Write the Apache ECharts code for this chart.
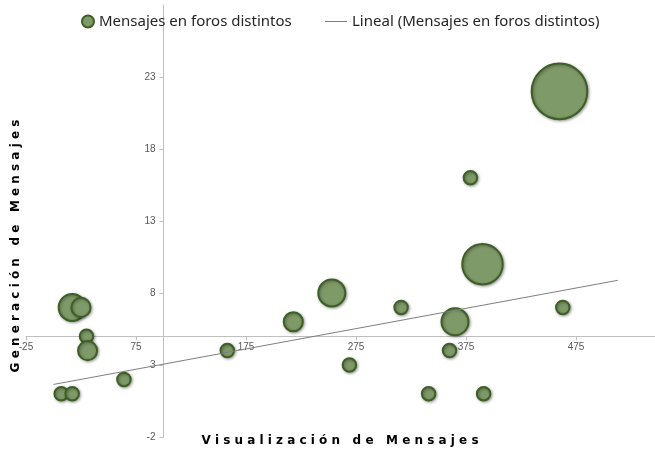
<!DOCTYPE html>
<html>
<head>
<meta charset="utf-8">
<script src="https://cdn.jsdelivr.net/npm/echarts@6/dist/echarts.min.js"></script>
<style>
  html, body { margin: 0; padding: 0; background: #fff; }
  #main { width: 655px; height: 453px; }
</style>
</head>
<body>
<div id="main"></div>
<script>
// valores
var xValues = [7, 17, 17, 25, 30, 31, 64, 158, 218, 253, 269, 316, 341, 360, 365, 379, 390, 391, 460, 463];
var yValues = [1, 1, 7, 7, 5, 4, 2, 4, 6, 8, 3, 7, 1, 4, 6, 16, 10, 1, 22, 7];
var bubbleSizes = [1, 1, 4, 2, 1, 2, 1, 1, 2, 4, 1, 1, 1, 1, 4, 1, 9, 1, 17, 1];

// linea de tendencia (extremos leidos)
var trendX = [0, 513];
var trendY = [1.65, 8.88];

var seriesName = 'Mensajes en foros distintos';
var trendName = 'Lineal (Mensajes en foros distintos)';
var xTitle = 'V i s u a l i z a c i ó n   d e   M e n s a j e s';
var yTitle = 'G e n e r a c i ó n   d e   M e n s a j e s';

var W = 655, H = 453;
var gridLeft = 26, gridTop = 5, gridBottom = 16, gridRight = -31;

var bubbleData = [];
for (var i = 0; i < xValues.length; i++) {
  bubbleData.push([xValues[i], yValues[i], bubbleSizes[i]]);
}
var trendData = [];
for (var j = 0; j < trendX.length; j++) {
  trendData.push([trendX[j], trendY[j]]);
}

var chart = echarts.init(document.getElementById('main'), null, { renderer: 'canvas' });

var axisColor = '#bfbfbf';
var labelStyle = { color: '#595959', fontSize: 10, fontFamily: 'Liberation Sans' };
var legendText = { color: '#262626', fontSize: 15, fontFamily: 'Noto Sans' };

var option = {
  animation: false,
  backgroundColor: '#ffffff',
  grid: {
    left: gridLeft, right: gridRight, top: gridTop, bottom: gridBottom,
    containLabel: false, outerBoundsMode: 'none'
  },
  legend: [{
    left: 76, top: 9,
    data: [{ name: seriesName, icon: 'circle' }],
    itemWidth: 12, itemHeight: 12,
    textStyle: legendText
  }, {
    left: 320, top: 9,
    data: [{ name: trendName, icon: 'rect' }],
    itemWidth: 22, itemHeight: 1,
    itemStyle: { color: '#7f7f7f', borderWidth: 0 },
    textStyle: legendText
  }],
  xAxis: {
    type: 'value',
    min: -25, max: 575, interval: 100,
    position: 'bottom',
    axisLine: { onZero: false, lineStyle: { color: axisColor, width: 1 } },
    axisTick: { show: true, length: 4, lineStyle: { color: axisColor } },
    axisLabel: Object.assign({ margin: 6, showMaxLabel: false }, labelStyle),
    splitLine: { show: false }
  },
  yAxis: {
    type: 'value',
    min: -2, max: 28, interval: 5,
    position: 'left',
    axisLine: { show: true, onZero: false, lineStyle: { color: axisColor, width: 1 } },
    axisTick: { show: true, length: 4, lineStyle: { color: axisColor } },
    axisLabel: Object.assign({ margin: 8, showMaxLabel: false }, labelStyle),
    splitLine: { show: false }
  },
  series: [{
    name: seriesName,
    type: 'scatter',
    data: bubbleData,
    symbolSize: function (d) { return 13.5 * Math.sqrt(d[2]); },
    itemStyle: {
      color: '#7f9a69',
      borderColor: '#3d5e25',
      borderWidth: 2,
      opacity: 1,
      shadowBlur: 3,
      shadowOffsetX: 1,
      shadowOffsetY: 1,
      shadowColor: 'rgba(0,0,0,0.35)'
    },
    z: 2
  }, {
    name: trendName,
    type: 'line',
    data: trendData,
    symbol: 'none',
    lineStyle: { color: '#7f7f7f', width: 1 },
    itemStyle: { color: '#7f7f7f' },
    z: 3
  }],
  graphic: [{
    type: 'text',
    x: 340, y: 441,
    style: {
      text: xTitle, align: 'center', verticalAlign: 'middle',
      fill: '#000', font: 'bold 12px "DejaVu Sans"'
    }
  }, {
    type: 'text',
    x: 16, y: 246, rotation: Math.PI / 2,
    style: {
      text: yTitle, align: 'center', verticalAlign: 'middle',
      fill: '#000', font: 'bold 12px "DejaVu Sans"'
    }
  }]
};

chart.setOption(option);

// los ejes se cruzan en x=100, y=5 como en Excel
var cross = chart.convertToPixel({ gridIndex: 0 }, [100, 5]);
chart.setOption({
  xAxis: { offset: -((H - gridBottom) - cross[1]) },
  yAxis: { offset: -(cross[0] - gridLeft) }
});
</script>
</body>
</html>
